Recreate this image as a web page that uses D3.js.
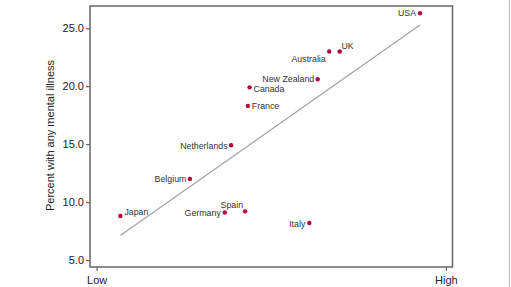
<!DOCTYPE html>
<html><head><meta charset="utf-8">
<script src="https://cdn.jsdelivr.net/npm/d3@7"></script>
<style>
body{margin:0;background:#fff;}
svg{display:block;font-family:"Liberation Sans",Arial,sans-serif;}
</style></head>
<body>
<svg id="c" width="511" height="287"></svg>
<script>
const countries = ["Japan","Belgium","Netherlands","France","Canada","New Zealand","Australia","UK","USA","Germany","Spain","Italy"];
const inequality = [0.068,0.267,0.385,0.433,0.438,0.633,0.666,0.696,0.926,0.367,0.425,0.609];
const mentalIllness = [8.8,12.0,14.9,18.3,19.9,20.6,23.0,23.0,26.3,9.1,9.2,8.2];
const yTicks = [5,10,15,20,25];
const xTicks = [0,1];
const xTickLabels = ["Low","High"];
const yTitle = "Percent with any mental illness";

const svg = d3.select("#c");
const L=90, R=452.5, T=6, B=267;
const x = d3.scaleLinear().domain([-0.019,1.019]).range([L,R]);
const y = d3.scaleLinear().domain([4.4,26.92]).range([B,T]);

// slide edge
svg.append("line").attr("x1",509.5).attr("x2",509.5).attr("y1",0).attr("y2",287)
  .attr("stroke","#bbb").attr("stroke-width",1);

// frame
svg.append("rect").attr("x",L).attr("y",T).attr("width",R-L).attr("height",B-T)
  .attr("fill","none").attr("stroke","#666").attr("stroke-width",1.5);

const yAxis = svg.append("g").attr("transform",`translate(${L},0)`)
  .call(d3.axisLeft(y).tickValues(yTicks).tickFormat(d3.format(".1f")).tickSize(4).tickPadding(2));
const xAxis = svg.append("g").attr("transform",`translate(0,${B})`)
  .call(d3.axisBottom(x).tickValues(xTicks).tickFormat((d,i)=>xTickLabels[i]).tickSize(4).tickPadding(5));
[yAxis,xAxis].forEach(g=>{
  g.select(".domain").remove();
  g.selectAll("line").attr("stroke","#666").attr("stroke-width",1.2);
  g.selectAll("text").attr("fill","#222").style("font-size","11px").style("font-family","'Liberation Sans',Arial,sans-serif");
});

svg.append("text").attr("transform",`translate(54,${(T+B)/2-1}) rotate(-90)`)
  .attr("text-anchor","middle").attr("fill","#222").style("font-size","11px").text(yTitle);

// regression line
const data = countries.map((c,i)=>({c, x:inequality[i], y:mentalIllness[i]}));
const mx = d3.mean(data,d=>d.x), my = d3.mean(data,d=>d.y);
const slope = d3.sum(data,d=>(d.x-mx)*(d.y-my))/d3.sum(data,d=>(d.x-mx)**2);
const x0 = d3.min(data,d=>d.x), x1 = d3.max(data,d=>d.x);
svg.append("line")
  .attr("x1",x(x0)).attr("y1",y(my+slope*(x0-mx)))
  .attr("x2",x(x1)).attr("y2",y(my+slope*(x1-mx)))
  .attr("stroke","#a0a0a0").attr("stroke-width",1.1);

svg.append("g").selectAll("circle").data(data).join("circle")
  .attr("cx",d=>x(d.x)).attr("cy",d=>y(d.y)).attr("r",2.2).attr("fill","#b5003c");

// label placement: [dx, dy, anchor]
const place = {
  "Japan":[4,-4.5,"start"],"Belgium":[-3.5,0.5,"end"],"Netherlands":[-3.5,0.5,"end"],
  "France":[4,0.5,"start"],"Canada":[4,1.3,"start"],"New Zealand":[-3.5,0,"end"],
  "Australia":[-3.5,7.3,"end"],"UK":[1.8,-6,"start"],"USA":[-4,0,"end"],
  "Germany":[-4,0.6,"end"],"Spain":[-2,-6.7,"end"],"Italy":[-4,0.6,"end"]
};
svg.append("g").selectAll("text").data(data).join("text")
  .attr("x",d=>x(d.x)+place[d.c][0]).attr("y",d=>y(d.y)+place[d.c][1])
  .attr("dy","0.35em").attr("text-anchor",d=>place[d.c][2])
  .attr("fill","#333").style("font-size","8.8px").text(d=>d.c);
</script>
</body></html>
